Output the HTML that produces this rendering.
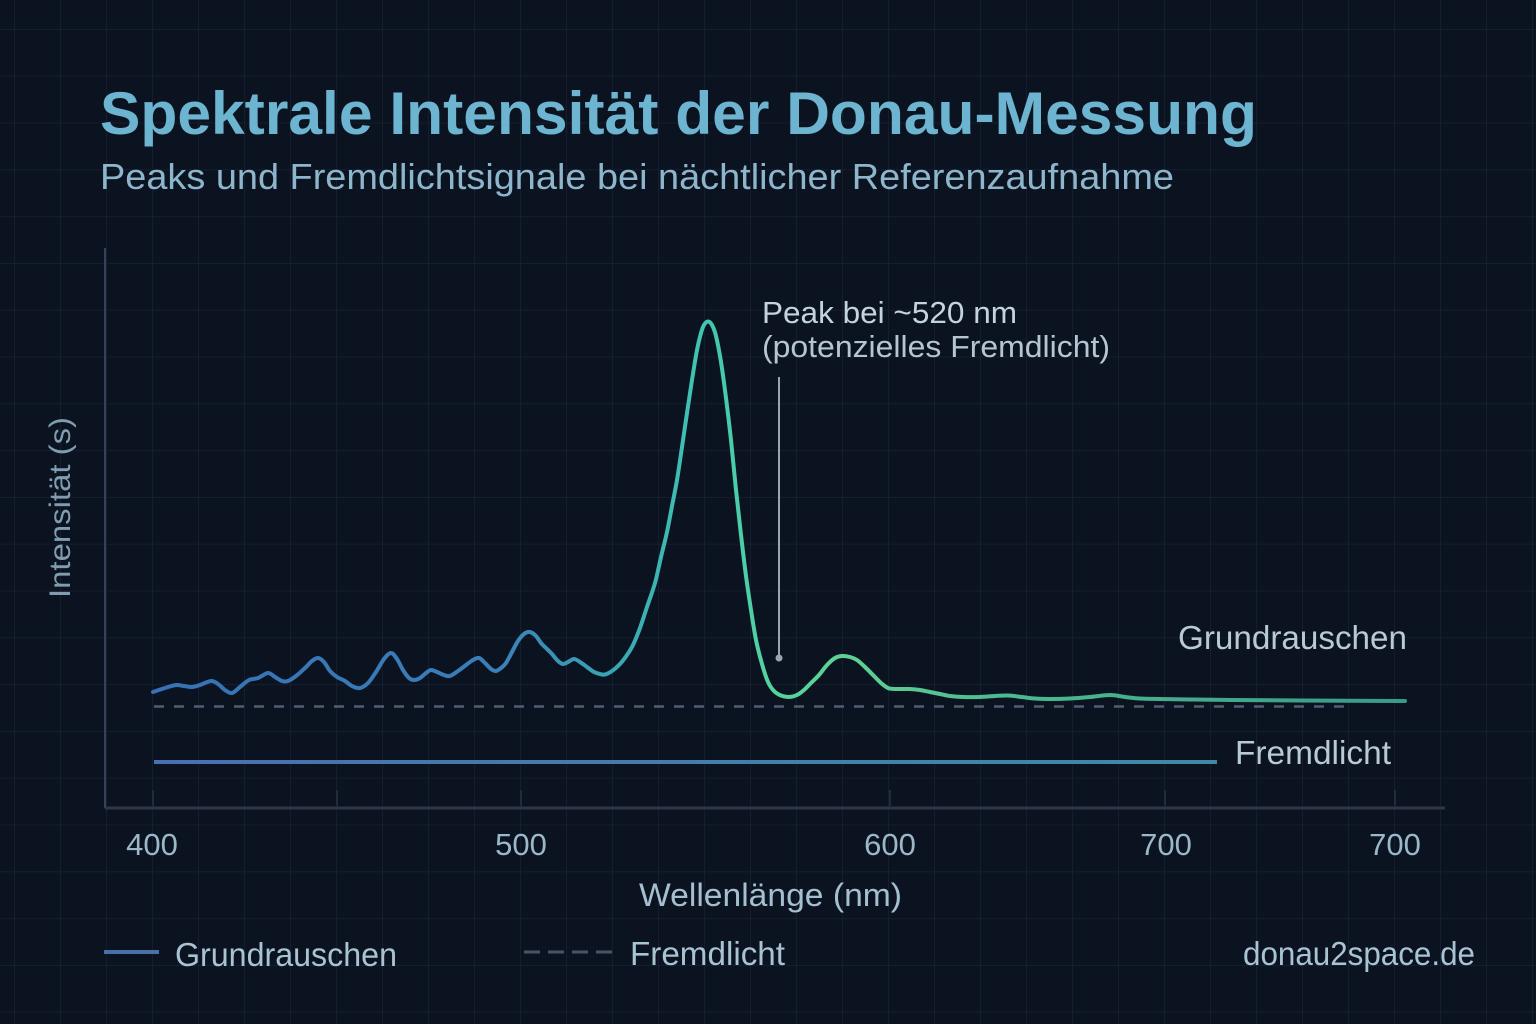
<!DOCTYPE html>
<html>
<head>
<meta charset="utf-8">
<style>
  html,body{margin:0;padding:0;background:#0c1320;}
  body{width:1536px;height:1024px;overflow:hidden;}
  svg{display:block;}
  text{font-family:"Liberation Sans","DejaVu Sans",sans-serif;}
</style>
</head>
<body>
<svg width="1536" height="1024" viewBox="0 0 1536 1024" xmlns="http://www.w3.org/2000/svg">
  <defs>
    <pattern id="grid" x="14" y="29" width="46" height="46.8" patternUnits="userSpaceOnUse">
      <path d="M0 0 V46.8 M0 0 H46" stroke="#172132" stroke-width="1.6" fill="none"/>
    </pattern>
    <linearGradient id="curveGrad" gradientUnits="userSpaceOnUse" x1="153" y1="0" x2="1405" y2="0">
      <stop offset="0" stop-color="#3672b5"/>
      <stop offset="0.27" stop-color="#3a7eb9"/>
      <stop offset="0.37" stop-color="#3aa6b2"/>
      <stop offset="0.44" stop-color="#40c6b2"/>
      <stop offset="0.49" stop-color="#52d3a0"/>
      <stop offset="0.56" stop-color="#5fd092"/>
      <stop offset="0.68" stop-color="#4cba8f"/>
      <stop offset="1" stop-color="#3a9a8a"/>
    </linearGradient>
    <linearGradient id="fremdGrad" gradientUnits="userSpaceOnUse" x1="154" y1="0" x2="1217" y2="0">
      <stop offset="0" stop-color="#4a70b0"/>
      <stop offset="1" stop-color="#3e8aa6"/>
    </linearGradient>
  </defs>

  <rect width="1536" height="1024" fill="#0c1320"/>
  <rect width="1536" height="1024" fill="url(#grid)"/>

  <!-- Title -->
  <text x="100" y="134" font-size="60" font-weight="bold" fill="#6cb4d0" textLength="1157" lengthAdjust="spacingAndGlyphs">Spektrale Intensität der Donau-Messung</text>
  <text x="100" y="189" font-size="36" fill="#8db6cc" textLength="1074" lengthAdjust="spacingAndGlyphs">Peaks und Fremdlichtsignale bei nächtlicher Referenzaufnahme</text>

  <!-- Axes -->
  <line x1="105" y1="248" x2="105" y2="808" stroke="#36415a" stroke-width="2"/>
  <line x1="105" y1="808" x2="1445" y2="808" stroke="#2e3648" stroke-width="3"/>
  <g stroke="#222b3b" stroke-width="2">
    <line x1="153" y1="790" x2="153" y2="806"/>
    <line x1="337" y1="790" x2="337" y2="806"/>
    <line x1="521" y1="790" x2="521" y2="806"/>
    <line x1="890" y1="790" x2="890" y2="806"/>
    <line x1="1165" y1="790" x2="1165" y2="806"/>
    <line x1="1395" y1="790" x2="1395" y2="806"/>
  </g>

  <!-- X tick labels -->
  <g font-size="31" fill="#9ab8c8" text-anchor="middle">
    <text x="152" y="855">400</text>
    <text x="521" y="855">500</text>
    <text x="890" y="855">600</text>
    <text x="1166" y="855">700</text>
    <text x="1395" y="855">700</text>
  </g>
  <text x="639" y="906" font-size="32" fill="#a4c0d0" textLength="263" lengthAdjust="spacingAndGlyphs">Wellenlänge (nm)</text>

  <!-- Y label -->
  <text transform="translate(70,598) rotate(-90)" x="0" y="0" font-size="30" fill="#7f9cb0" textLength="181" lengthAdjust="spacingAndGlyphs">Intensität (s)</text>

  <!-- Dashed Fremdlicht -->
  <line x1="154" y1="706.5" x2="1352" y2="706.5" stroke="#525c72" stroke-width="2.5" stroke-dasharray="10 10"/>

  <!-- Solid line -->
  <line x1="154" y1="762" x2="1217" y2="762" stroke="url(#fremdGrad)" stroke-width="4"/>

  <!-- Main curve -->
  <polyline id="curve" fill="none" stroke="url(#curveGrad)" stroke-width="4" stroke-linejoin="round" stroke-linecap="round"
    points="153,692 165,688 176,685 184,686 192,687 200,685 211,681 218,684 225,690 232,693 240,687 249,680 258,678 268,673 275,677 282,681 288,681 296,676 305,668 312,661 318,658 324,662 330,671 337,677 345,681 352,686 360,688 368,683 376,672 384,659 391,653 397,659 403,670 409,678 414,680 420,678 426,673 431,670 437,672 444,675 450,676 458,671 466,665 473,660 479,658 485,663 491,669 496,671 501,668 506,663 512,652 518,641 524,634 530,632 536,636 541,643 546,648 552,654 558,661 563,664 568,662 574,659 580,662 587,667 594,672 600,674 605,674.5 612,671 620,664 627,655 633,645 640,628 647,607 655,583 661,557 667,532 672,506 677,480 682,447 687,413 692,380 697,350 701,333 704,325 708,321.5 712,325 716,336 721,362 726,398 731,440 736,490 741,535 746,576 751,610 756,640 762,664 768,682 774,691 781,695.5 789,697 797,695 804,690 811,683 819,675 827,665 835,658 842,656 850,657 857,660 865,667 873,675 881,683 888,688 895,689 910,689 920,690 930,692 940,694 950,696 963,697 980,697 995,696 1008,695.5 1022,697 1035,698.5 1052,699 1070,698.5 1090,697 1110,695 1125,697 1140,698.5 1160,699 1190,699.5 1231,700 1300,700.5 1405,701"/>

  <!-- Annotation -->
  <line x1="779" y1="377" x2="779" y2="656" stroke="#9aa5b3" stroke-width="2"/>
  <circle cx="779" cy="658" r="3.5" fill="#9aa5b3"/>
  <text x="762" y="323" font-size="31" fill="#c4d4de" textLength="255" lengthAdjust="spacingAndGlyphs">Peak bei ~520 nm</text>
  <text x="762" y="357" font-size="31" fill="#b4c6d2" textLength="348" lengthAdjust="spacingAndGlyphs">(potenzielles Fremdlicht)</text>

  <!-- Series labels -->
  <text x="1178" y="649" font-size="33" fill="#b8cad6" textLength="229" lengthAdjust="spacingAndGlyphs">Grundrauschen</text>
  <text x="1235" y="764" font-size="33" fill="#b8cad6" textLength="156" lengthAdjust="spacingAndGlyphs">Fremdlicht</text>

  <!-- Legend -->
  <line x1="104" y1="952" x2="159" y2="952" stroke="#4a70a8" stroke-width="4"/>
  <text x="175" y="966" font-size="33" fill="#a8c4d4" textLength="222" lengthAdjust="spacingAndGlyphs">Grundrauschen</text>
  <line x1="524" y1="952" x2="612" y2="952" stroke="#4a5268" stroke-width="3" stroke-dasharray="16 8"/>
  <text x="630" y="965" font-size="33" fill="#a8c4d4" textLength="155" lengthAdjust="spacingAndGlyphs">Fremdlicht</text>
  <text x="1243" y="965" font-size="33" fill="#a8c4d4" textLength="232" lengthAdjust="spacingAndGlyphs">donau2space.de</text>
</svg>
<script>
(function(){
  try{
    var pl=document.getElementById('curve');
    var raw=pl.getAttribute('points').trim().split(/\s+/).map(function(s){var a=s.split(',');return [parseFloat(a[0]),parseFloat(a[1])];});
    var d='M'+raw[0][0]+' '+raw[0][1];
    for(var i=0;i<raw.length-1;i++){
      var p0=raw[i-1]||raw[i],p1=raw[i],p2=raw[i+1],p3=raw[i+2]||raw[i+1];
      var c1x=p1[0]+(p2[0]-p0[0])/6,c1y=p1[1]+(p2[1]-p0[1])/6;
      var c2x=p2[0]-(p3[0]-p1[0])/6,c2y=p2[1]-(p3[1]-p1[1])/6;
      d+=' C'+c1x.toFixed(2)+' '+c1y.toFixed(2)+' '+c2x.toFixed(2)+' '+c2y.toFixed(2)+' '+p2[0]+' '+p2[1];
    }
    var ns='http://www.w3.org/2000/svg';
    var path=document.createElementNS(ns,'path');
    path.setAttribute('d',d);
    path.setAttribute('fill','none');
    path.setAttribute('stroke','url(#curveGrad)');
    path.setAttribute('stroke-width','4');
    path.setAttribute('stroke-linejoin','round');
    path.setAttribute('stroke-linecap','round');
    pl.parentNode.replaceChild(path,pl);
  }catch(e){}
})();
</script>
</body>
</html>
